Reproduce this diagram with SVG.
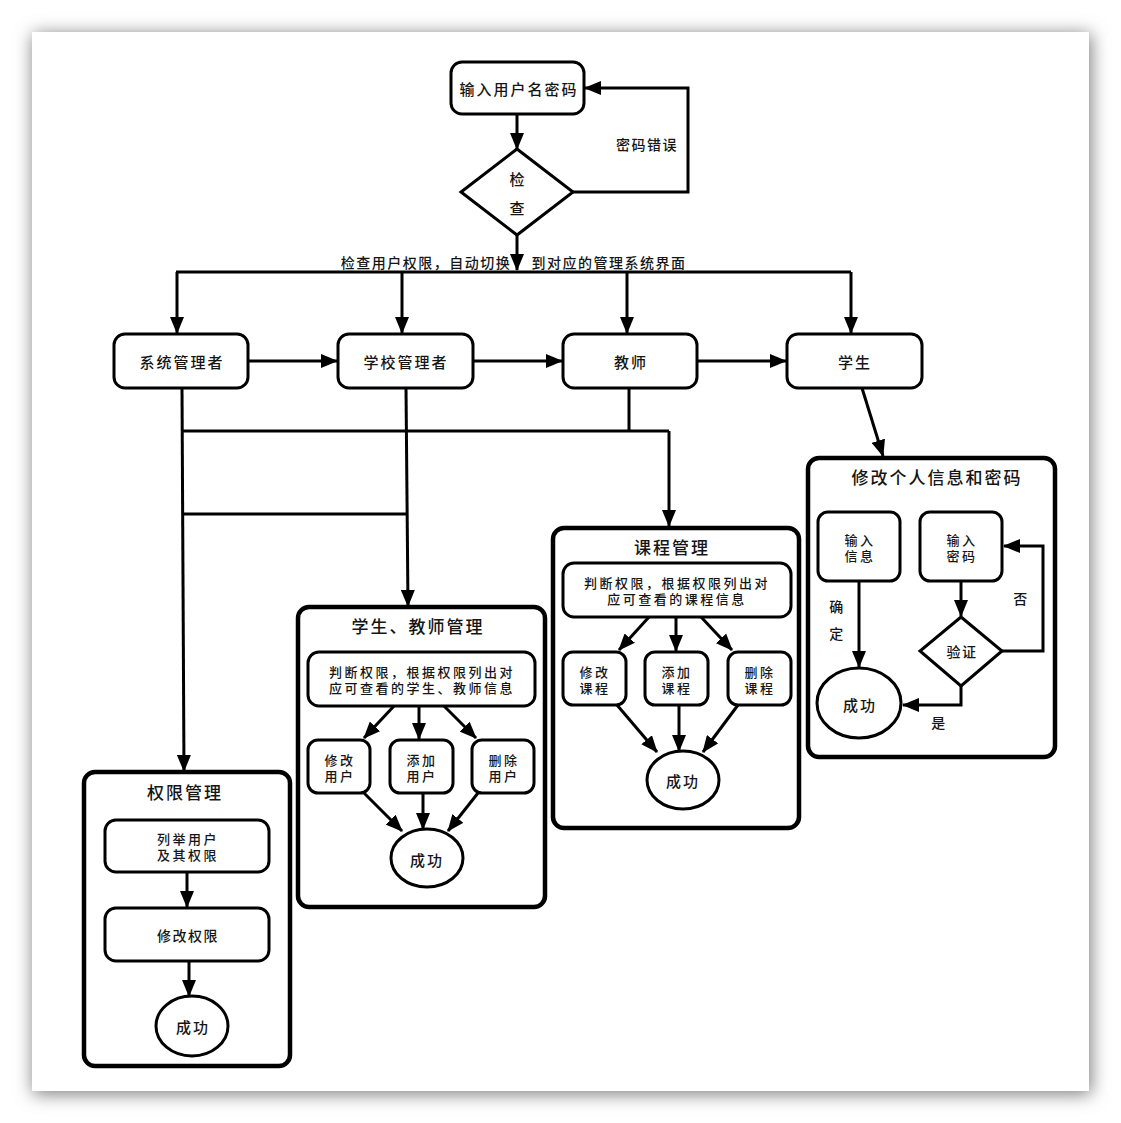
<svg xmlns="http://www.w3.org/2000/svg" width="1121" height="1123" viewBox="0 0 1121 1123">
  <defs>
    <filter id="pageShadow" x="-10%" y="-10%" width="120%" height="120%">
      <feGaussianBlur stdDeviation="9"/>
    </filter>
    <marker id="arrow" markerUnits="userSpaceOnUse" markerWidth="17" markerHeight="14" refX="16" refY="7" orient="auto">
      <path d="M0,0 L17,7 L0,14 z" fill="#000"/>
    </marker>
    <style>
      text { font-family: "Noto Sans CJK SC", "Noto Sans", sans-serif; font-weight: 500; fill: #151515; text-anchor: middle; dominant-baseline: central; }
      .lbl { font-size: 15px; letter-spacing: 2px; }
      .sm { font-size: 14px; letter-spacing: 1.5px; }
      .two { font-size: 13px; letter-spacing: 2.5px; }
      .ttl { font-size: 17px; letter-spacing: 2px; }
      .node { fill: #fff; stroke: #000; stroke-width: 3; }
      .box { fill: #fff; stroke: #000; stroke-width: 4.5; }
      .edge { fill: none; stroke: #000; stroke-width: 3; }
      .arr { marker-end: url(#arrow); }
    </style>
  </defs>

  <!-- page with soft shadow -->
  <rect x="33" y="34" width="1058" height="1060" fill="#7a7a7a" filter="url(#pageShadow)"/>
  <rect x="32" y="32" width="1057" height="1059" fill="#fff"/>

  <!-- login -->
  <g id="login">
    <rect class="node" x="451" y="62" width="133" height="52" rx="11"/>
    <text class="lbl" x="519" y="88">输入用户名密码</text>
  </g>
  <g id="check">
    <polygon class="node" points="517,149 573,192 517,235 461,192"/>
    <text class="lbl" x="518" y="178">检</text>
    <text class="lbl" x="518" y="207">查</text>
  </g>
  <g id="label-wrong">
    <text class="sm" x="647" y="144">密码错误</text>
  </g>
  <g id="label-switch">
    <text class="sm" x="426" y="262">检查用户权限，自动切换</text>
    <text class="sm" x="609" y="262">到对应的管理系统界面</text>
  </g>

  <!-- role nodes -->
  <g id="sysadmin">
    <rect class="node" x="114" y="334" width="134" height="54" rx="11"/>
    <text class="lbl" x="182" y="361">系统管理者</text>
  </g>
  <g id="schooladmin">
    <rect class="node" x="338" y="334" width="135" height="54" rx="11"/>
    <text class="lbl" x="406" y="361">学校管理者</text>
  </g>
  <g id="teacher">
    <rect class="node" x="563" y="334" width="134" height="54" rx="11"/>
    <text class="lbl" x="631" y="361">教师</text>
  </g>
  <g id="student">
    <rect class="node" x="787" y="334" width="135" height="54" rx="11"/>
    <text class="lbl" x="855" y="361">学生</text>
  </g>

  <!-- 权限管理 -->
  <g id="perm-mgmt">
    <rect class="box" x="84" y="772" width="206" height="294" rx="11"/>
    <text class="ttl" x="185" y="791">权限管理</text>
    <rect class="node" x="105" y="820" width="164" height="52" rx="11"/>
    <text class="two"><tspan x="188" y="838">列举用户</tspan><tspan x="188" y="853.5">及其权限</tspan></text>
    <rect class="node" x="105" y="908" width="164" height="53" rx="11"/>
    <text class="sm" x="188" y="935">修改权限</text>
    <ellipse class="node" cx="192" cy="1026" rx="36" ry="30"/>
    <text class="lbl" x="193" y="1026">成功</text>
  </g>

  <!-- 学生、教师管理 -->
  <g id="user-mgmt">
    <rect class="box" x="298" y="607" width="247" height="300" rx="11"/>
    <text class="ttl" x="418" y="625">学生、教师管理</text>
    <rect class="node" x="308" y="652" width="227" height="54" rx="11"/>
    <text class="two"><tspan x="422" y="671">判断权限，根据权限列出对</tspan><tspan x="422" y="686.5">应可查看的学生、教师信息</tspan></text>
    <rect class="node" x="308" y="740" width="62" height="53" rx="10"/>
    <text class="two"><tspan x="340" y="759">修改</tspan><tspan x="340" y="774.5">用户</tspan></text>
    <rect class="node" x="390" y="740" width="63" height="53" rx="10"/>
    <text class="two"><tspan x="422" y="759">添加</tspan><tspan x="422" y="774.5">用户</tspan></text>
    <rect class="node" x="472" y="740" width="62" height="53" rx="10"/>
    <text class="two"><tspan x="504" y="759">删除</tspan><tspan x="504" y="774.5">用户</tspan></text>
    <ellipse class="node" cx="427" cy="858" rx="36" ry="29"/>
    <text class="lbl" x="427" y="859">成功</text>
  </g>

  <!-- 课程管理 -->
  <g id="course-mgmt">
    <rect class="box" x="553" y="528" width="246" height="300" rx="11"/>
    <text class="ttl" x="672" y="546">课程管理</text>
    <rect class="node" x="563" y="563" width="228" height="54" rx="11"/>
    <text class="two"><tspan x="677" y="582">判断权限，根据权限列出对</tspan><tspan x="677" y="597.5">应可查看的课程信息</tspan></text>
    <rect class="node" x="563" y="652" width="63" height="53" rx="10"/>
    <text class="two"><tspan x="595" y="671">修改</tspan><tspan x="595" y="686.5">课程</tspan></text>
    <rect class="node" x="645" y="652" width="63" height="53" rx="10"/>
    <text class="two"><tspan x="677" y="671">添加</tspan><tspan x="677" y="686.5">课程</tspan></text>
    <rect class="node" x="728" y="652" width="63" height="53" rx="10"/>
    <text class="two"><tspan x="760" y="671">删除</tspan><tspan x="760" y="686.5">课程</tspan></text>
    <ellipse class="node" cx="683" cy="780" rx="36" ry="29"/>
    <text class="lbl" x="683" y="780">成功</text>
  </g>

  <!-- 修改个人信息和密码 -->
  <g id="profile-mgmt">
    <rect class="box" x="808" y="458" width="247" height="299" rx="11"/>
    <text class="ttl" x="937" y="476">修改个人信息和密码</text>
    <rect class="node" x="818" y="512" width="82" height="69" rx="10"/>
    <text class="two"><tspan x="860" y="539">输入</tspan><tspan x="860" y="554.5">信息</tspan></text>
    <rect class="node" x="920" y="512" width="82" height="69" rx="10"/>
    <text class="two"><tspan x="962" y="539">输入</tspan><tspan x="962" y="554.5">密码</tspan></text>
    <polygon class="node" points="961,617 1002,651 961,686 920,651"/>
    <text class="sm" x="962" y="651">验证</text>
    <ellipse class="node" cx="859" cy="703" rx="42" ry="35"/>
    <text class="lbl" x="860" y="704">成功</text>
    <text class="sm" x="837" y="606">确</text>
    <text class="sm" x="837" y="633">定</text>
    <text class="sm" x="1021" y="598">否</text>
    <text class="sm" x="939" y="722">是</text>
  </g>

  <!-- connectors, drawn over the boxes -->
  <g id="connectors">
    <line class="edge arr" x1="517" y1="114" x2="517" y2="149"/>
    <polyline class="edge arr" points="573,192 688,192 688,88 585,88"/>
    <line class="edge arr" x1="517" y1="235" x2="517" y2="270"/>
    <polyline class="edge" points="176,272 851,272"/>
    <line class="edge arr" x1="177" y1="272" x2="177" y2="333"/>
    <line class="edge arr" x1="402" y1="272" x2="402" y2="333"/>
    <line class="edge arr" x1="627" y1="272" x2="627" y2="333"/>
    <line class="edge arr" x1="851" y1="272" x2="851" y2="333"/>

    <line class="edge arr" x1="248" y1="361" x2="337" y2="361"/>
    <line class="edge arr" x1="473" y1="361" x2="562" y2="361"/>
    <line class="edge arr" x1="697" y1="361" x2="786" y2="361"/>

    <line class="edge arr" x1="182" y1="388" x2="184" y2="771"/>
    <polyline class="edge" points="182,431 669,431"/>
    <line class="edge" x1="629" y1="388" x2="629" y2="431"/>
    <line class="edge arr" x1="669" y1="431" x2="669" y2="526"/>
    <line class="edge arr" x1="406" y1="388" x2="408" y2="606"/>
    <line class="edge" x1="182" y1="514" x2="407" y2="514"/>
    <line class="edge arr" x1="862" y1="388" x2="883" y2="456"/>

    <!-- inside 权限管理 -->
    <line class="edge arr" x1="187" y1="872" x2="187" y2="907"/>
    <line class="edge arr" x1="189" y1="961" x2="189" y2="996"/>

    <!-- inside 学生、教师管理 -->
    <line class="edge arr" x1="394" y1="706" x2="364" y2="738"/>
    <line class="edge arr" x1="419" y1="706" x2="419" y2="739"/>
    <line class="edge arr" x1="444" y1="706" x2="476" y2="738"/>
    <line class="edge arr" x1="364" y1="793" x2="402" y2="831"/>
    <line class="edge arr" x1="423" y1="793" x2="423" y2="829"/>
    <line class="edge arr" x1="478" y1="793" x2="448" y2="831"/>

    <!-- inside 课程管理 -->
    <line class="edge arr" x1="649" y1="617" x2="619" y2="650"/>
    <line class="edge arr" x1="676" y1="617" x2="676" y2="651"/>
    <line class="edge arr" x1="701" y1="617" x2="732" y2="650"/>
    <line class="edge arr" x1="617" y1="705" x2="657" y2="752"/>
    <line class="edge arr" x1="679" y1="705" x2="679" y2="751"/>
    <line class="edge arr" x1="738" y1="705" x2="703" y2="752"/>

    <!-- inside 修改个人信息和密码 -->
    <line class="edge arr" x1="859" y1="581" x2="859" y2="667"/>
    <line class="edge arr" x1="961" y1="581" x2="961" y2="616"/>
    <polyline class="edge arr" points="1002,651 1043,651 1043,546 1004,546"/>
    <polyline class="edge arr" points="961,686 961,705 903,705"/>
  </g>
</svg>
